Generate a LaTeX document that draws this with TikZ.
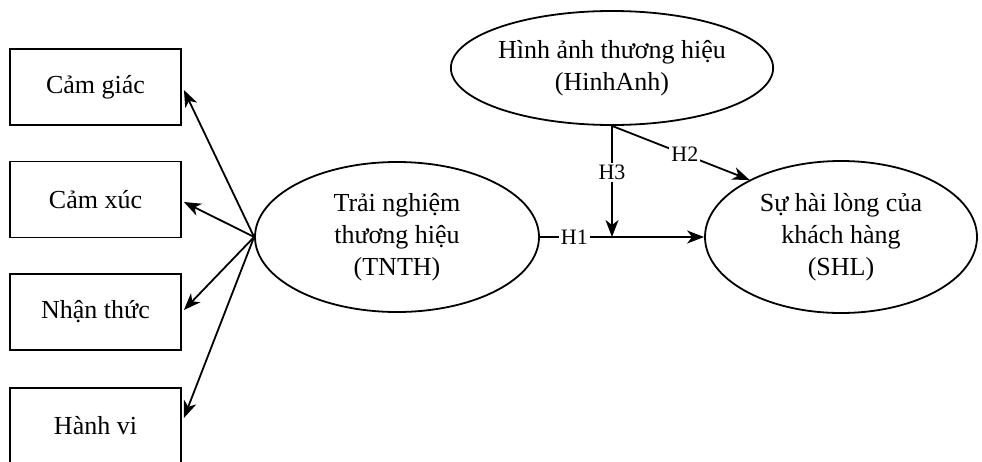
\documentclass[tikz,border=0pt]{standalone}
\usepackage{fontspec}
\setmainfont{Liberation Serif}
\usetikzlibrary{shapes.geometric,arrows.meta,calc}
\begin{document}
\begin{tikzpicture}[x=1pt,y=-1pt,
  every node/.style={font=\fontsize{26}{32}\selectfont},
  dim/.style={draw,line width=1.8pt,rectangle,minimum width=171pt,minimum height=76pt,inner sep=0pt},
  latent/.style={draw,line width=1.8pt,ellipse,inner sep=0pt,align=center},
  conn/.style={line width=1.8pt,-{Stealth[length=17pt,width=13pt,inset=5pt]}},
  lbl/.style={fill=white,inner sep=2pt,font=\fontsize{22}{26}\selectfont}]
\useasboundingbox (0,0) rectangle (982,461);
\node[dim] (b1) at (95.5,87) {Cảm giác};
\node[dim] (b2) at (95.5,199.5) {Cảm xúc};
\node[dim] (b3) at (95.5,312) {Nhận thức};
\node[dim] (b4) at (95.5,426) {Hành vi};
\node[latent,minimum width=284pt,minimum height=150pt] (tnth) at (397,237) {Trải nghiệm\\thương hiệu\\(TNTH)};
\node[latent,minimum width=298pt,minimum height=114pt] (hinh) at (612,68) {Hình ảnh thương hiệu\\(HinhAnh)};
\node[latent,minimum width=272pt,minimum height=152pt] (shl) at (841,237) {Sự hài lòng của\\khách hàng\\(SHL)};
\draw[conn] (tnth.west) -- ($(b1.east)+(2,3)$);
\draw[conn] (tnth.west) -- ($(b2.east)+(2,2.5)$);
\draw[conn] (tnth.west) -- ($(b3.east)+(2,-2)$);
\draw[conn] (tnth.west) -- ($(b4.east)+(2,-8)$);
\coordinate (j) at (612,237);
\draw[conn] (tnth.east) -- node[lbl,pos=0.21] (h1) {H1} (shl.west);
\draw[conn] (hinh.south) -- node[lbl,pos=0.42] (h3) {H3} (j);
\draw[conn] (hinh.south) -- node[lbl,pos=0.53] (h2) {H2} (shl.148);
\end{tikzpicture}
\end{document}
